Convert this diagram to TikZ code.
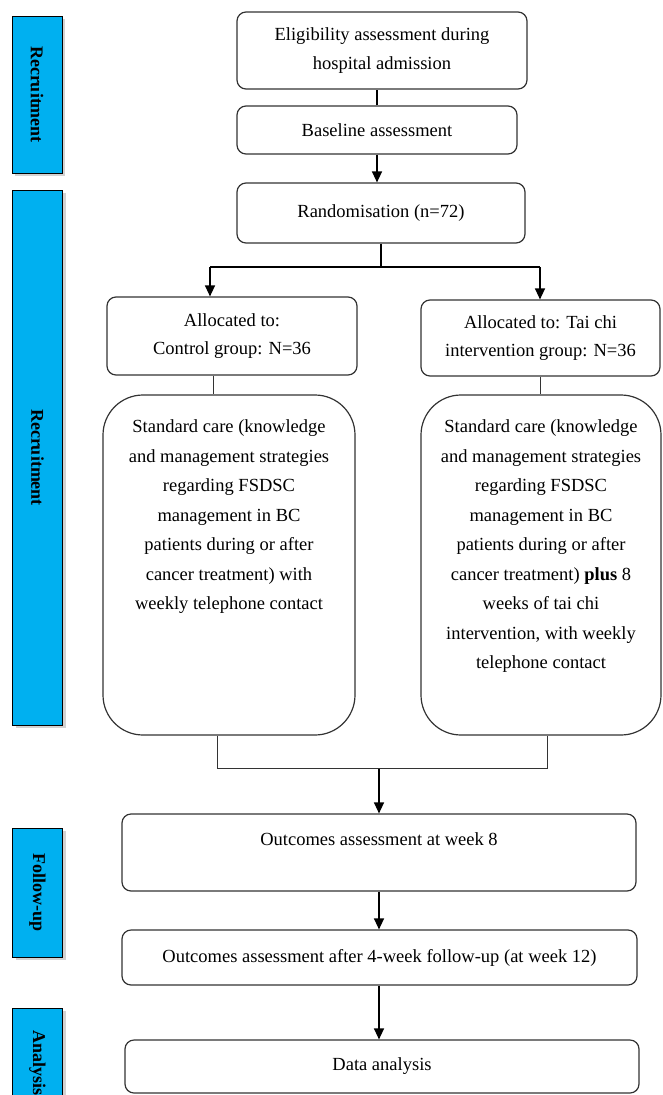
\documentclass[tikz,border=0pt]{standalone}
\usepackage{fontspec}
\setmainfont{Liberation Serif}
\usetikzlibrary{arrows.meta,positioning,shadows}
\definecolor{phaseblue}{HTML}{00B0F0}

\begin{document}
\begin{tikzpicture}[x=1pt,y=-1pt,font=\fontsize{18.5}{29}\selectfont]
\useasboundingbox (0,0) rectangle (662,1095);

% phase bars on the left
\begin{scope}[every node/.style={draw=black,line width=1pt,fill=phaseblue,minimum width=50pt,
              font=\fontsize{18}{20}\selectfont\bfseries,
              drop shadow={shadow xshift=3pt,shadow yshift=-3pt,fill=black!35}}]
	\node[minimum height=157pt] (rec1) at (37,94.5) {\rotatebox{-90}{Recruitment}};
	\node[minimum height=535pt] (rec2) at (37.5,457.5) {\rotatebox{-90}{Recruitment}};
	\node[minimum height=129pt] (fu) at (37.5,892.5) {\rotatebox{-90}{Follow-up}};
	\node[minimum height=110pt] (ana) at (37.5,1063) {\rotatebox{-90}{Analysis}};
\end{scope}

% flow boxes
\begin{scope}[every node/.style={draw=black!80,line width=1.2pt,rounded corners=9pt,align=center}]
	\node[minimum width=290pt,minimum height=77pt] (elig) at (382,50.5) {Eligibility assessment during\\hospital admission};
	\node[minimum width=280pt,minimum height=48pt] (base) at (377,130) {Baseline assessment};
	\node[minimum width=288pt,minimum height=60pt] (rand) at (381,213) {Randomisation (n=72)};
	\node[minimum width=250pt,minimum height=78pt,font=\fontsize{18.5}{28}\selectfont] (ctrl) at (232,336) {Allocated to:\\Control group: N=36};
	\node[minimum width=239pt,minimum height=76pt,font=\fontsize{18.5}{28}\selectfont] (tai) at (540.5,338) {Allocated to: Tai chi\\intervention group: N=36};
	\node[minimum width=252pt,minimum height=340pt,rounded corners=40pt] (ctrlcare) at (229,565) {};
	\node[minimum width=240pt,minimum height=340pt,rounded corners=40pt] (taicare) at (541,565) {};
	\node[minimum width=514pt,minimum height=77pt,text depth=26pt] (wk8) at (379,852.5) {Outcomes assessment at week 8};
	\node[minimum width=515pt,minimum height=55pt] (wk12) at (379.5,957.5) {Outcomes assessment after 4-week follow-up (at week 12)};
	\node[minimum width=514pt,minimum height=53pt] (data) at (382,1066.5) {Data analysis};
\end{scope}

% texts of the two arms
\begin{scope}[every node/.style={align=center,font=\fontsize{18.5}{29.5}\selectfont}]
	\node[below=22pt of ctrlcare.north] (ctrltxt) {Standard care (knowledge\\and management strategies\\regarding FSDSC\\management in BC\\patients during or after\\cancer treatment) with\\weekly telephone contact};
	\node[below=22pt of taicare.north] (taitxt) {Standard care (knowledge\\and management strategies\\regarding FSDSC\\management in BC\\patients during or after\\cancer treatment) \textbf{plus} 8\\weeks of tai chi\\intervention, with weekly\\telephone contact};
\end{scope}

\coordinate (splitL) at (210,267);
\coordinate (splitR) at (540,267);
\coordinate (mergeL) at (217,768);
\coordinate (mergeR) at (547,768);
\coordinate (mergeC) at (379,768);

\begin{scope}[>={Triangle[width=10pt,length=11pt]},line width=1.4pt]
	\draw (base.north) -- (base.north |- elig.south);
	\draw [->] (base.south) -- (rand.north -| base.south);
	\draw (rand.south) -- (rand.south |- splitL);
	\draw (splitL) -- (splitR);
	\draw [->] (splitL) -- (splitL |- ctrl.north);
	\draw [->] (splitR) -- (splitR |- tai.north);
	\draw [->] (mergeC) -- (wk8.north -| mergeC);
	\draw [->] (wk8.south -| mergeC) -- (wk12.north -| mergeC);
	\draw [->] (wk12.south -| mergeC) -- (data.north -| mergeC);
\end{scope}

\begin{scope}[draw=black!80,line width=1pt]
	\draw (ctrl.south -| 213,0) -- (ctrlcare.north -| 213,0);
	\draw (tai.south -| splitR) -- (taicare.north -| splitR);
	\draw (ctrlcare.south -| mergeL) -- (mergeL) -- (mergeR) -- (taicare.south -| mergeR);
\end{scope}
\end{tikzpicture}
\end{document}
